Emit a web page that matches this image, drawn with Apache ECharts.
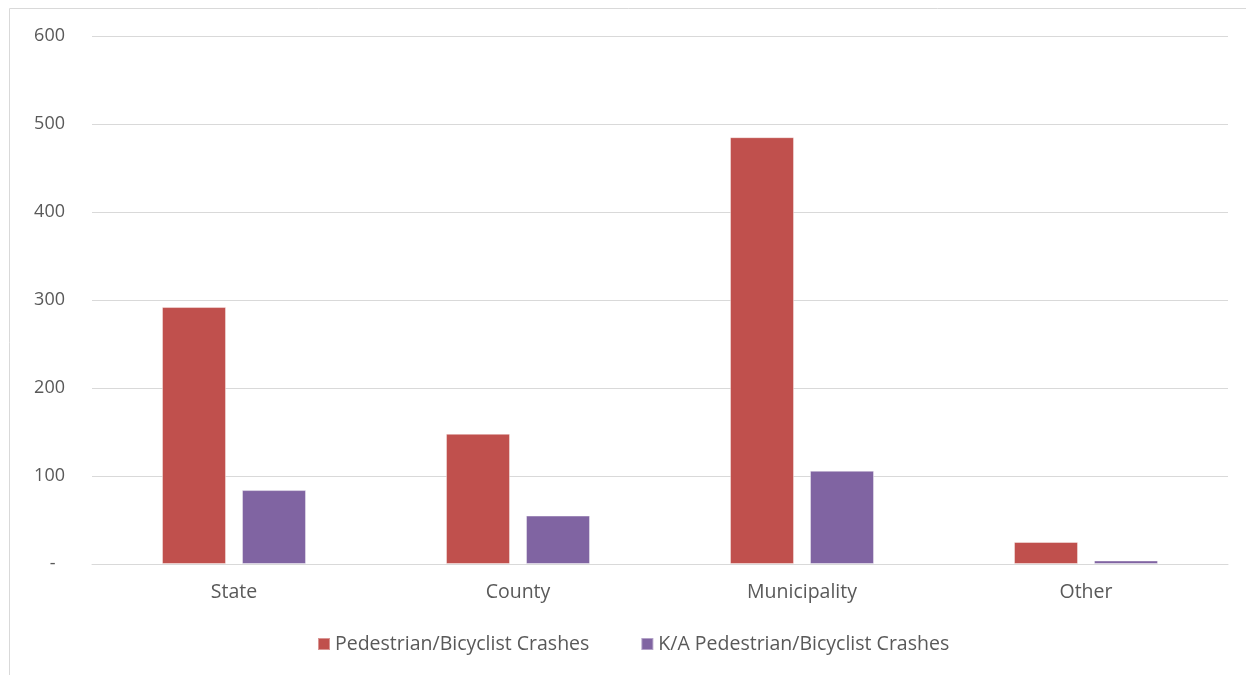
<!DOCTYPE html>
<html>
<head>
<meta charset="utf-8">
<script src="https://cdn.jsdelivr.net/npm/echarts@6/dist/echarts.min.js"></script>
<style>
  html, body { margin: 0; padding: 0; background: #fff; }
  #chart { width: 1246px; height: 675px; }
</style>
</head>
<body>
<div id="chart"></div>
<script>
  // 数据
  var categories = ['State', 'County', 'Municipality', 'Other']
  var crashes = [292, 148, 485, 25]
  var kaCrashes = [84, 55, 106, 4]
  var seriesNames = ['Pedestrian/Bicyclist Crashes', 'K/A Pedestrian/Bicyclist Crashes']

  var textColor = '#595959'
  var font = '"Open Sans", sans-serif'

  var myChart = echarts.init(document.getElementById('chart'))
  myChart.setOption({
    animation: false,
    graphic: [{
      type: 'rect', // 外框
      shape: { x: 9.5, y: 8.5, width: 1400, height: 800 },
      style: { fill: 'none', stroke: '#d9d9d9', lineWidth: 1 },
      silent: true
    }],
    grid: {
      top: 36,
      bottom: 111,
      left: 92,
      right: 18
    },
    legend: {
      left: 312,
      top: 629,
      itemWidth: 12,
      itemHeight: 12,
      itemGap: 51,
      icon: 'rect',
      textStyle: { color: textColor, fontSize: 19.5, fontFamily: font },
      data: seriesNames
    },
    xAxis: {
      type: 'category',
      data: categories,
      axisLine: { lineStyle: { color: '#d9d9d9' } },
      axisTick: { show: false },
      axisLabel: { color: textColor, fontSize: 19.5, fontFamily: font, margin: 18 }
    },
    yAxis: {
      type: 'value',
      min: 0,
      max: 600,
      interval: 100,
      axisLine: { show: false },
      axisTick: { show: false },
      splitLine: { lineStyle: { color: '#d9d9d9', width: 1 } },
      axisLabel: {
        color: textColor,
        fontSize: 18,
        fontFamily: font,
        margin: 27,
        formatter: function (v) { return v === 0 ? '-  ' : v }
      }
    },
    series: [{
      name: seriesNames[0],
      type: 'bar',
      barWidth: 64,
      barGap: '25%',
      itemStyle: { color: '#C0504D', borderColor: 'rgba(255,255,255,0.4)', borderWidth: 1 },
      data: crashes
    }, {
      name: seriesNames[1],
      type: 'bar',
      barWidth: 64,
      itemStyle: { color: '#8064A2', borderColor: 'rgba(255,255,255,0.4)', borderWidth: 1 },
      data: kaCrashes
    }]
  })
</script>
</body>
</html>
